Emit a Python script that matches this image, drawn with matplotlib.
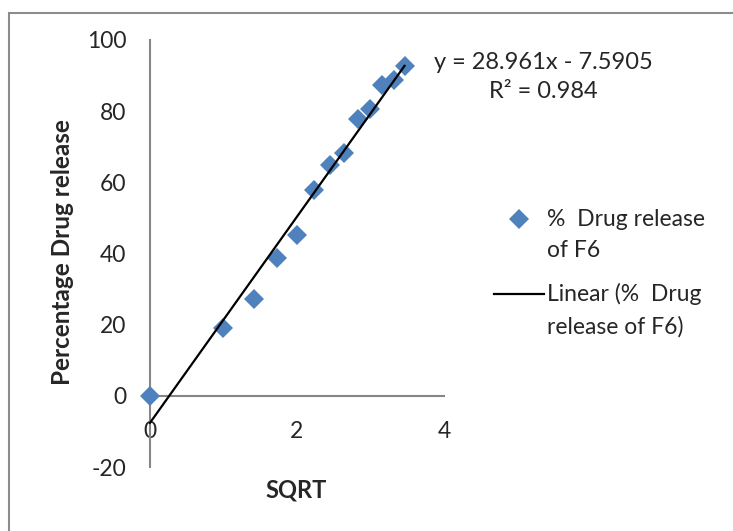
import matplotlib
matplotlib.use("Agg")
import numpy as np
from matplotlib import pyplot as plt
from matplotlib.patches import Rectangle
from matplotlib.transforms import Affine2D
from matplotlib.legend_handler import HandlerLine2D

# ------------------------------------------------------------- #
# Data
# ------------------------------------------------------------- #

sqrt_time = [0, 1, 1.414, 1.732, 2, 2.236, 2.449, 2.646, 2.828, 3, 3.162, 3.317, 3.464]
drug_release = [0, 19.1, 27.2, 38.8, 45.2, 57.9, 64.9, 68.3, 77.8, 80.6, 87.4, 88.8, 92.7]

slope = 28.961
intercept = -7.5905
r_squared = 0.984

x_ticks = [0, 2, 4]
y_ticks = [-20, 0, 20, 40, 60, 80, 100]

blue = "#4F81BD"
axis_grey = "#868686"
text_color = "#262626"
font_size = 16.5

plt.rcParams["font.family"] = ["Lato", "DejaVu Sans"]
plt.rcParams["font.size"] = font_size
plt.rcParams["axes.unicode_minus"] = False


class RaisedHandler(HandlerLine2D):
    # Excel puts the legend key next to the first line of a wrapped label
    def __init__(self, raise_by, **kw):
        super().__init__(**kw)
        self.raise_by = raise_by

    def create_artists(self, legend, orig_handle, xdescent, ydescent,
                       width, height, fontsize, trans):
        shift = Affine2D().translate(0, self.raise_by)
        return super().create_artists(legend, orig_handle, xdescent, ydescent,
                                      width, height, fontsize, shift + trans)


fig = plt.figure(figsize=(7.33, 5.31), dpi=100)
ax = fig.add_axes([0.2046, 0.1205, 0.401, 0.8042])

# chart-area border (Excel style), cut off on the right and bottom
fig.patches.append(Rectangle((9 / 733, -0.1), 1.2, 1 - 13 / 531 + 0.1,
                             transform=fig.transFigure, fill=False,
                             edgecolor="#8c8c8c", linewidth=1.5))

points, = ax.plot(sqrt_time, drug_release, linestyle="none", marker="D", markersize=10.5,
                  color=blue, markeredgewidth=0, clip_on=False, zorder=3,
                  label="%  Drug release\nof F6")

fit_x = np.array([min(sqrt_time), max(sqrt_time)])
trend, = ax.plot(fit_x, slope * fit_x + intercept, color="black", linewidth=1.6,
                 zorder=4, clip_on=False, label="Linear (%  Drug\nrelease of F6)")

ax.set_xlim(0, 4)
ax.set_ylim(-20, 100)
ax.set_xticks(x_ticks)
ax.set_yticks(y_ticks)

for side in ["top", "right"]:
    ax.spines[side].set_visible(False)
ax.spines["left"].set_position(("data", 0))
ax.spines["bottom"].set_position(("data", 0))
for side in ["left", "bottom"]:
    ax.spines[side].set_color(axis_grey)
    ax.spines[side].set_linewidth(1.5)

ax.tick_params(axis="both", length=0, colors=text_color, labelsize=font_size)
ax.tick_params(axis="x", pad=18)
ax.tick_params(axis="y", pad=17)

ax.set_xlabel("SQRT", fontweight="bold", va="center", color=text_color, fontsize=17)
ax.xaxis.set_label_coords(0.497, -0.054)
ax.set_ylabel("Percentage Drug release", fontweight="bold", va="center",
              color=text_color, fontsize=17.5)
ax.yaxis.set_label_coords(-0.296, 0.503)

ax.text(5.35, 89.6, "y = 28.961x - 7.5905\nR² = 0.984", ha="center", va="center",
        multialignment="center", color=text_color, clip_on=False, linespacing=1.45,
        fontsize=17)

handler = RaisedHandler(raise_by=12)
leg = ax.legend(loc="center left", bbox_to_anchor=(473 / 733, 1 - 273 / 531),
                bbox_transform=fig.transFigure, frameon=False, handlelength=2.2,
                handletextpad=0.15, labelspacing=0.97, fontsize=font_size,
                labelcolor=text_color,
                handler_map={points: handler, trend: handler})
for t in leg.get_texts():
    t.set_linespacing(1.6)

fig.savefig("out.png", dpi=100, facecolor="white")
